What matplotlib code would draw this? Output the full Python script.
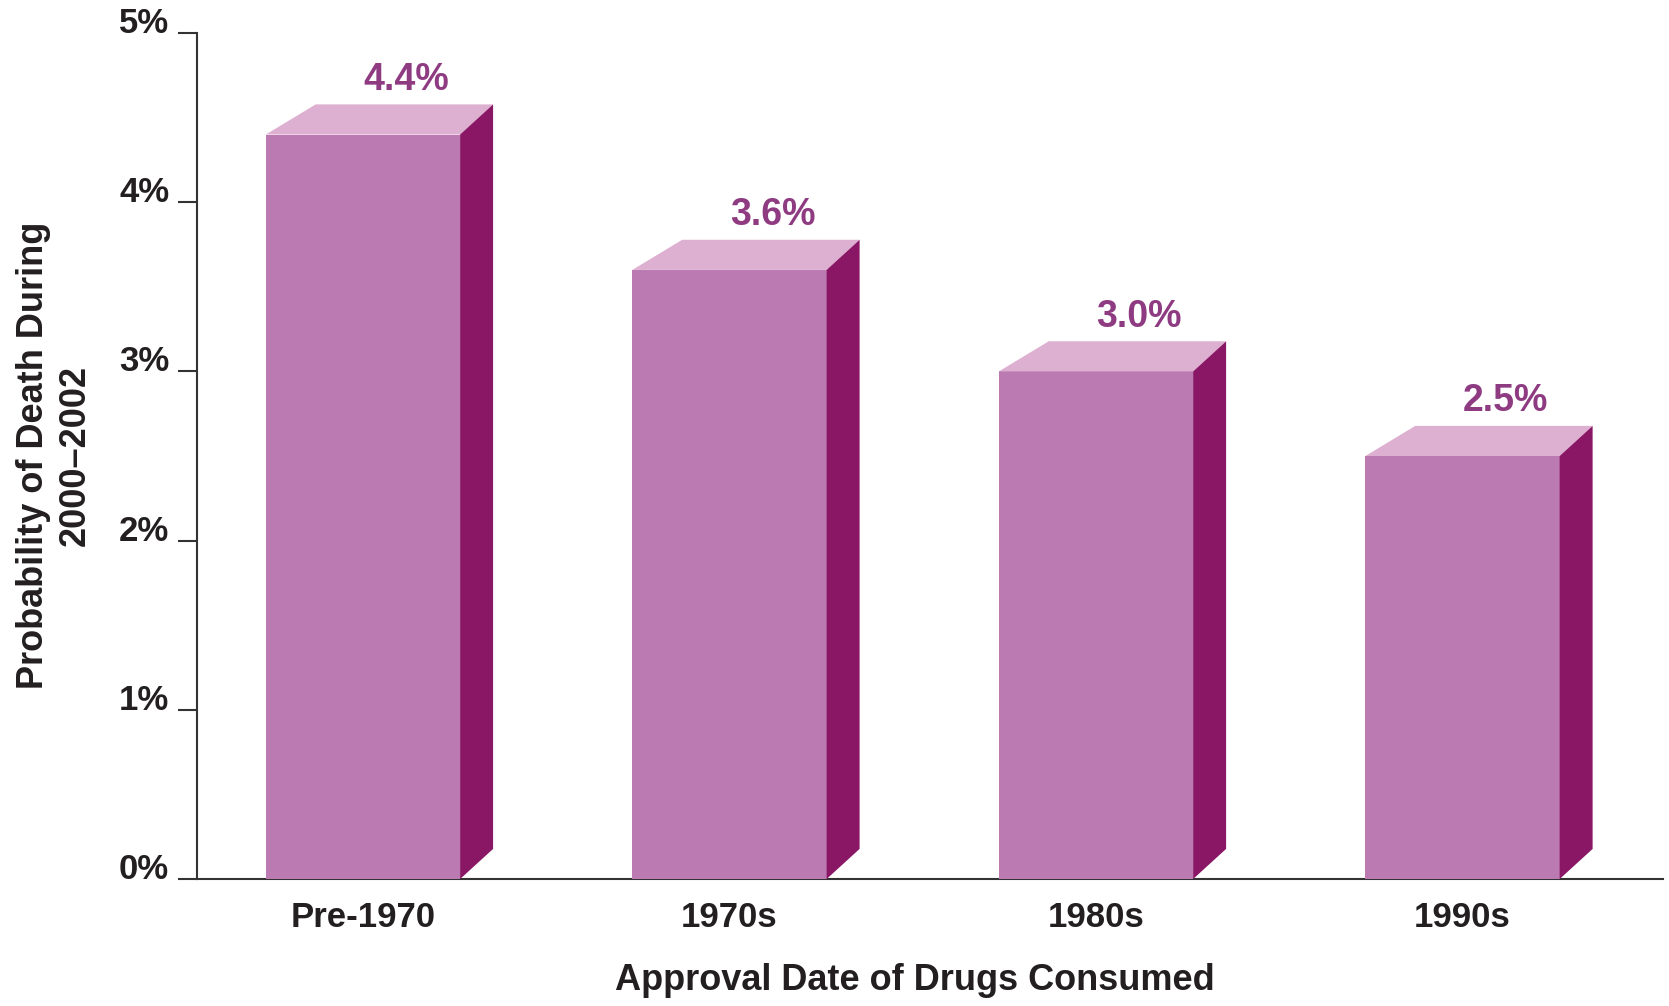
import numpy as np
import matplotlib
matplotlib.use('Agg')
import matplotlib.pyplot as plt
from matplotlib.patches import Polygon

plt.rcParams['font.family'] = ['Liberation Sans', 'DejaVu Sans']
plt.rcParams['font.weight'] = 'bold'

# chart data
categories = ['Pre-1970', '1970s', '1980s', '1990s']
death_prob = [4.4, 3.6, 3.0, 2.5]
value_labels = ['4.4%', '3.6%', '3.0%', '2.5%']
y_ticks = [0, 1, 2, 3, 4, 5]
y_tick_labels = ['0%', '1%', '2%', '3%', '4%', '5%']

front_col = '#bc7ab3'
top_col = '#ddafd0'
side_col = '#891765'
text_col = '#231f20'
label_col = '#8e3b82'

fig = plt.figure(figsize=(16.69, 10.06), dpi=100)
ax = fig.add_axes([0.118, 0.1262, 0.8784, 0.841])

x = np.arange(len(categories))
width = 0.53
# fake 3d offsets (data units)
dx_left = 0.136
dx_right = 0.09
dy = 0.178

ax.bar(x, death_prob, width=width, color=front_col, zorder=3)
for xi, v in zip(x, death_prob):
    l, r = xi - width / 2, xi + width / 2
    top = Polygon([(l, v), (l + dx_left, v + dy), (r + dx_right, v + dy), (r, v)],
                  closed=True, facecolor=top_col, edgecolor='none', zorder=3)
    side = Polygon([(r, 0), (r + dx_right, dy), (r + dx_right, v + dy), (r, v)],
                   closed=True, facecolor=side_col, edgecolor='none', zorder=3)
    ax.add_patch(top)
    ax.add_patch(side)

for xi, v, lab in zip(x, death_prob, value_labels):
    ax.text(xi + 0.118, v + dy + 0.04, lab, ha='center', va='bottom',
            fontsize=27, fontweight='bold', color=label_col)

ax.set_xlim(-0.453, 3.547)
ax.set_ylim(0, 5)

ax.spines['top'].set_visible(False)
ax.spines['right'].set_visible(False)
for s in ['left', 'bottom']:
    ax.spines[s].set_linewidth(1.5)
    ax.spines[s].set_color('#333333')

ax.set_yticks(y_ticks)
ax.set_yticklabels(y_tick_labels)
ax.set_xticks(x)
ax.set_xticklabels(categories)
ax.tick_params(axis='y', length=14, width=1.5, color='#333333', pad=6,
               labelsize=25, labelcolor=text_col)
ax.tick_params(axis='x', length=0, pad=16, labelsize=25, labelcolor=text_col)
for t in ax.get_yticklabels():
    t.set_verticalalignment('baseline')
for t in ax.get_xticklabels() + ax.get_yticklabels():
    t.set_fontweight('bold')

ax.set_xlabel('Approval Date of Drugs Consumed', fontsize=26, fontweight='bold',
              color=text_col)
ax.xaxis.set_label_coords(0.49, -0.099)

fig.text(0.0325, 0.5477, 'Probability of Death During\n2000\u20132002', rotation=90,
         ha='center', va='center', multialignment='center', fontsize=26,
         fontweight='bold', color=text_col, linespacing=1.25)

plt.savefig('out.png', dpi=100)
